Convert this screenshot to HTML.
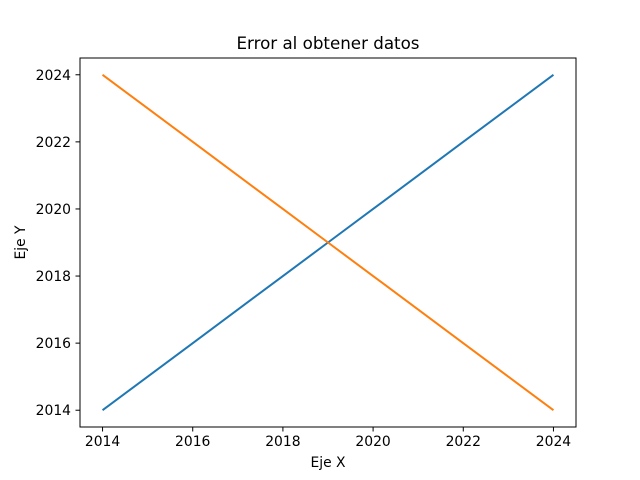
<!DOCTYPE html>
<html><head><meta charset="utf-8"><style>
html,body{margin:0;padding:0;background:#fff;}
svg{display:block;font-family:"DejaVu Sans","Liberation Sans",sans-serif;}
</style></head><body>
<svg id="chart" width="640" height="480"></svg>
<script>
const years = [2014,2015,2016,2017,2018,2019,2020,2021,2022,2023,2024];
const seriesBlue = [2014,2015,2016,2017,2018,2019,2020,2021,2022,2023,2024];
const seriesOrange = [2024,2023,2022,2021,2020,2019,2018,2017,2016,2015,2014];
const xTicks = [2014,2016,2018,2020,2022,2024];
const yTicks = [2014,2016,2018,2020,2022,2024];

const NS = "http://www.w3.org/2000/svg";
const svg = document.getElementById('chart');
const L=80,R=576,T=58,B=427;
const xmin=2013.5,xmax=2024.5,ymin=2013.5,ymax=2024.5;
const sx=v=>L+(v-xmin)/(xmax-xmin)*(R-L);
const sy=v=>B-(v-ymin)/(ymax-ymin)*(B-T);
function mk(tag,attrs,parent){const e=document.createElementNS(NS,tag);for(const k in attrs)e.setAttribute(k,attrs[k]);(parent||svg).appendChild(e);return e;}

function line(vals,color,name){
  const p=mk('polyline',{points:years.map((x,i)=>sx(x)+','+sy(vals[i])).join(' '),fill:'none',stroke:color,'stroke-width':2});
  
  
}
line(seriesBlue,'#1f77b4','series-blue-line');
line(seriesOrange,'#ff7f0e','series-orange-line');

const frame=mk('rect',{x:L,y:T,width:R-L,height:B-T,fill:'none',stroke:'#000','stroke-width':1});



xTicks.forEach(v=>{
  const x=sx(v);
  const t=mk('line',{x1:x,x2:x,y1:B,y2:B+4.5,stroke:'#000','stroke-width':1});
  
  
  const l=mk('text',{x:x,y:B+19,'text-anchor':'middle','font-size':13.9,fill:'#000'});
  l.textContent=v;
  
  
});
yTicks.forEach(v=>{
  const y=sy(v);
  const t=mk('line',{x1:L-4.5,x2:L,y1:y,y2:y,stroke:'#000','stroke-width':1});
  
  
  const l=mk('text',{x:L-9,y:y+5,'text-anchor':'end','font-size':13.9,fill:'#000'});
  l.textContent=v;
  
  
});

const title=mk('text',{x:(L+R)/2,y:49,'text-anchor':'middle','font-size':16.7,fill:'#000'});
title.textContent='Error al obtener datos';


const xl=mk('text',{x:(L+R)/2,y:467,'text-anchor':'middle','font-size':13.9,fill:'#000'});
xl.textContent='Eje X';


const yl=mk('text',{x:25,y:(T+B)/2,'text-anchor':'middle','font-size':13.9,fill:'#000',transform:'rotate(-90 25 '+((T+B)/2)+')'});
yl.textContent='Eje Y';


</script>
</body></html>
